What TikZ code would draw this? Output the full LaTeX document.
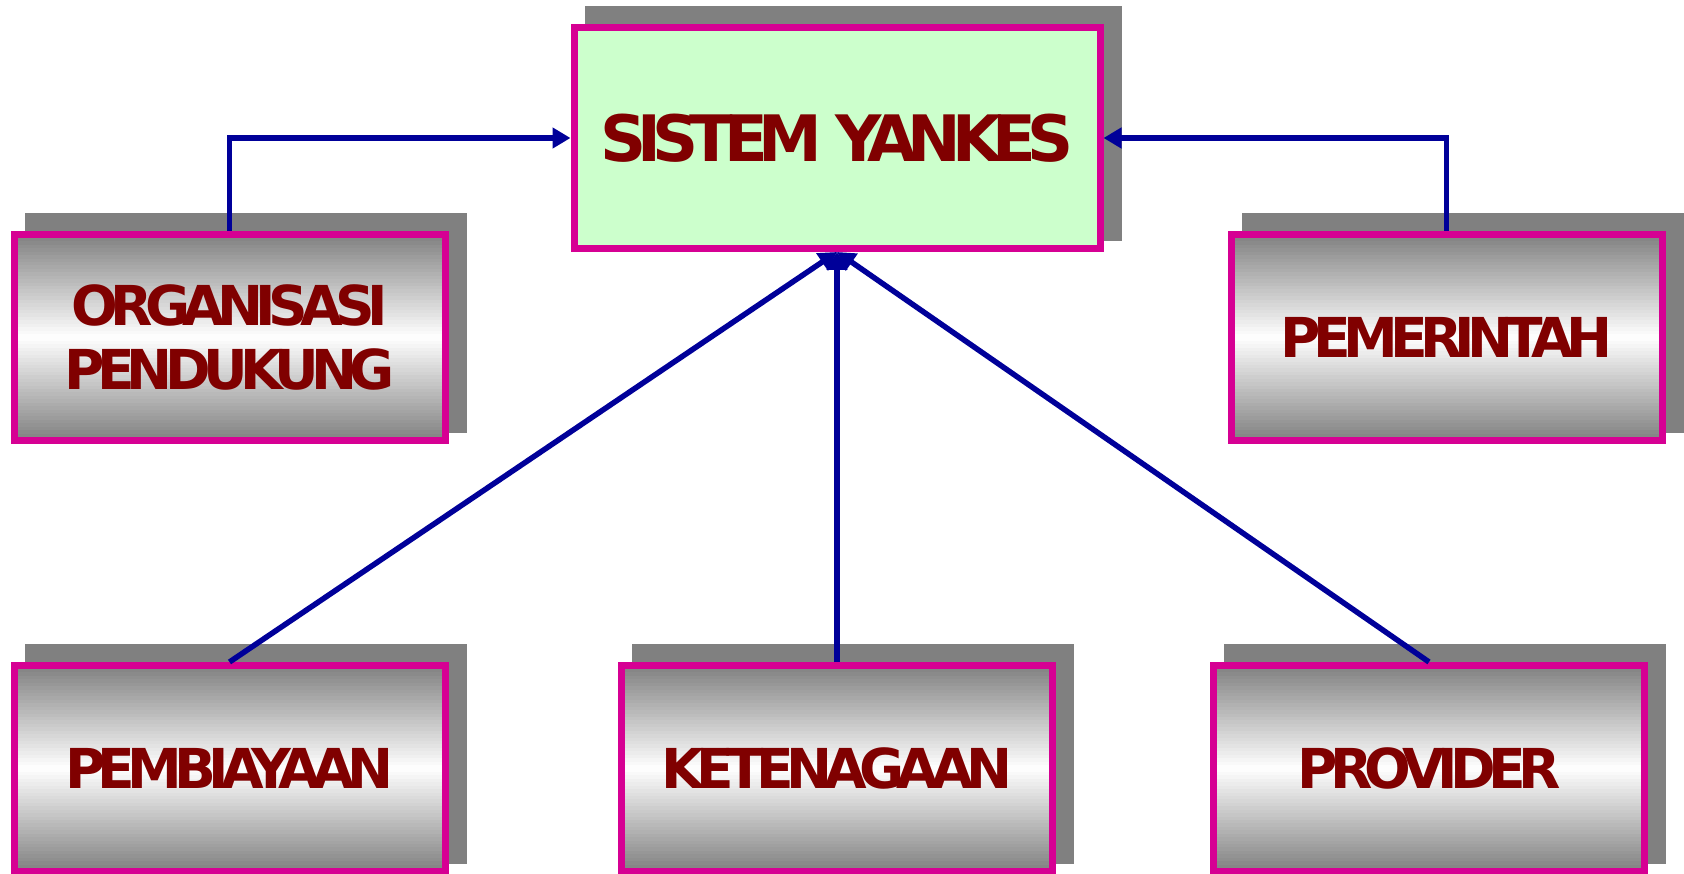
\documentclass[tikz,border=0pt]{standalone}
\usepackage{fontspec}
\usetikzlibrary{arrows.meta,backgrounds,calc}
\newfontfamily\lblfont{DejaVu Sans}[UprightFont={* Bold}, LetterSpace=-14]
\definecolor{magborder}{RGB}{214,0,147}
\definecolor{boxgreen}{RGB}{204,255,204}
\definecolor{txtred}{RGB}{128,0,0}
\definecolor{conblue}{RGB}{0,0,153}
\definecolor{shadowgray}{RGB}{128,128,128}
\tikzset{
  basebox/.style={draw=magborder, line width=7pt, rectangle,
      text=txtred, align=center, inner sep=0pt},
  mainbox/.style={basebox, fill=boxgreen, minimum width=526pt, minimum height=221pt,
      font=\lblfont\fontsize{64}{70}\selectfont},
  sidebox/.style={basebox, fill=white, minimum width=431pt, minimum height=206pt,
      font=\lblfont\fontsize{55}{64}\selectfont,
      path picture={
        \foreach \i in {0,...,59}{
          \pgfmathsetmacro\d{100*abs(2*(\i+0.5)/60-1)}
          \fill[shadowgray!\d!white]
            ($(path picture bounding box.north west)!{\i/60}!(path picture bounding box.south west)$)
            rectangle
            ($(path picture bounding box.north east)!{(\i+1.1)/60}!(path picture bounding box.south east)$);
        }
      }},
  shadowbox/.style={fill=shadowgray},
  conn/.style={draw=conblue, line width=5.5pt},
  tip/.style={-{Triangle[length=18pt,width=20pt]}}
}
\begin{document}
\begin{tikzpicture}[x=1pt,y=-1pt]
\useasboundingbox (0,0) rectangle (1684,874);
\node[mainbox] (sys) at (837,138) {SISTEM YANKES};
\node[sidebox] (org) at (229.5,337.5) {ORGANISASI\\PENDUKUNG};
\node[sidebox] (pem) at (1446.5,337.5) {PEMERINTAH};
\node[sidebox] (peb) at (229.5,768.5) {PEMBIAYAAN};
\node[sidebox] (ket) at (837,768.5) {KETENAGAAN};
\node[sidebox] (prov) at (1429,768.5) {PROVIDER};
\begin{scope}[on background layer]
\foreach \n in {sys,org,pem,peb,ket,prov}
  \fill[shadowbox] ([xshift=14pt,yshift=18pt]\n.north west) rectangle ([xshift=18pt,yshift=11pt]\n.south east);
\end{scope}
\draw[conn,tip] (org.north) |- (sys.west);
\draw[conn,tip] (pem.north) |- (sys.east);
\draw[conn,tip] (peb.north) -- (sys.south);
\draw[conn,tip] (ket.north) -- (sys.south);
\draw[conn,tip] (prov.north) -- (sys.south);
\end{tikzpicture}
\end{document}
